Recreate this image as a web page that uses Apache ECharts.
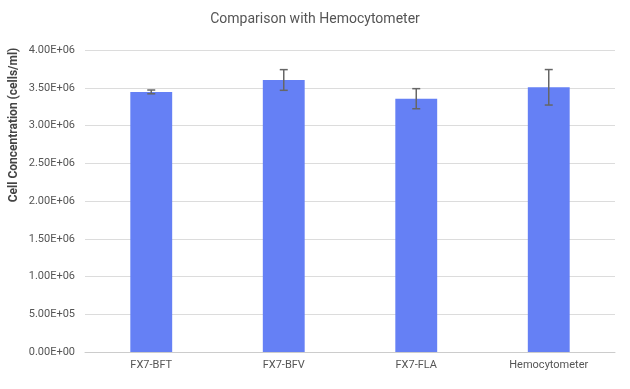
<!DOCTYPE html>
<html><head><meta charset="utf-8">
<script src="https://cdn.jsdelivr.net/npm/echarts@6/dist/echarts.min.js"></script>
<style>html,body{margin:0;padding:0;background:#fff}#c{width:630px;height:389px}</style>
</head><body><div id="c"></div>
<script>
const categories = ['FX7-BFT', 'FX7-BFV', 'FX7-FLA', 'Hemocytometer'];
const values = [3.445e6, 3.603e6, 3.355e6, 3.506e6];
const errors = [0.025e6, 0.137e6, 0.133e6, 0.235e6];
const yTicks = [0, 0.5e6, 1e6, 1.5e6, 2e6, 2.5e6, 3e6, 3.5e6, 4e6];
const yAxisTitle = 'Cell Concentration (cells/ml)';

function fmt(v) {
  const s = Number(v).toExponential(2).toUpperCase();
  const m = s.match(/^(-?[\d.]+)E([+-])(\d+)$/);
  return m[1] + 'E+' + (m[3].length < 2 ? '0' + m[3] : m[3]);
}

const chart = echarts.init(document.getElementById('c'));
chart.setOption({
  animation: false,
  title: {
    text: 'Comparison with Hemocytometer', left: 'center', top: 7,
    textStyle: { fontFamily: 'Roboto', fontSize: 14, fontWeight: 'normal', color: '#555' }
  },
  graphic: [{
    type: 'text', x: 14, y: 125, rotation: Math.PI / 2,
    style: { text: yAxisTitle, fontFamily: 'Roboto', fontSize: 12, fontWeight: 'bold',
      fill: '#444', align: 'center', verticalAlign: 'middle' }
  }],
  grid: { left: 85, right: 15, top: 50, bottom: 37, containLabel: false, outerBoundsMode: 'none' },
  xAxis: {
    type: 'category', data: categories,
    axisTick: { show: false },
    axisLine: { lineStyle: { color: '#ccc', width: 1 } },
    axisLabel: { fontFamily: 'Roboto', fontSize: 11, color: '#555', margin: 8 }
  },
  yAxis: {
    type: 'value', min: 0, max: 4e6, interval: 0.5e6,
    axisLine: { show: false }, axisTick: { show: false },
    splitLine: { lineStyle: { color: '#dcdcdc' } },
    axisLabel: { fontFamily: 'Roboto', fontSize: 11, color: '#555', margin: 10,
      formatter: v => yTicks.includes(v) ? fmt(v) : '' }
  },
  series: [
    { type: 'bar', data: values, barWidth: '31.6%', itemStyle: { color: '#6580f5' } },
    {
      type: 'custom',
      data: values.map((v, i) => [i, v - errors[i], v + errors[i]]),
      renderItem: function (params, api) {
        const x = api.value(0);
        const lo = api.coord([x, api.value(1)]);
        const hi = api.coord([x, api.value(2)]);
        const hw = 4;
        const st = { stroke: '#666', lineWidth: 1.5 };
        return { type: 'group', children: [
          { type: 'line', shape: { x1: lo[0], y1: lo[1], x2: hi[0], y2: hi[1] }, style: st },
          { type: 'line', shape: { x1: lo[0] - hw, y1: lo[1], x2: lo[0] + hw, y2: lo[1] }, style: st },
          { type: 'line', shape: { x1: hi[0] - hw, y1: hi[1], x2: hi[0] + hw, y2: hi[1] }, style: st }
        ]};
      },
      z: 10
    }
  ]
});
</script></body></html>
